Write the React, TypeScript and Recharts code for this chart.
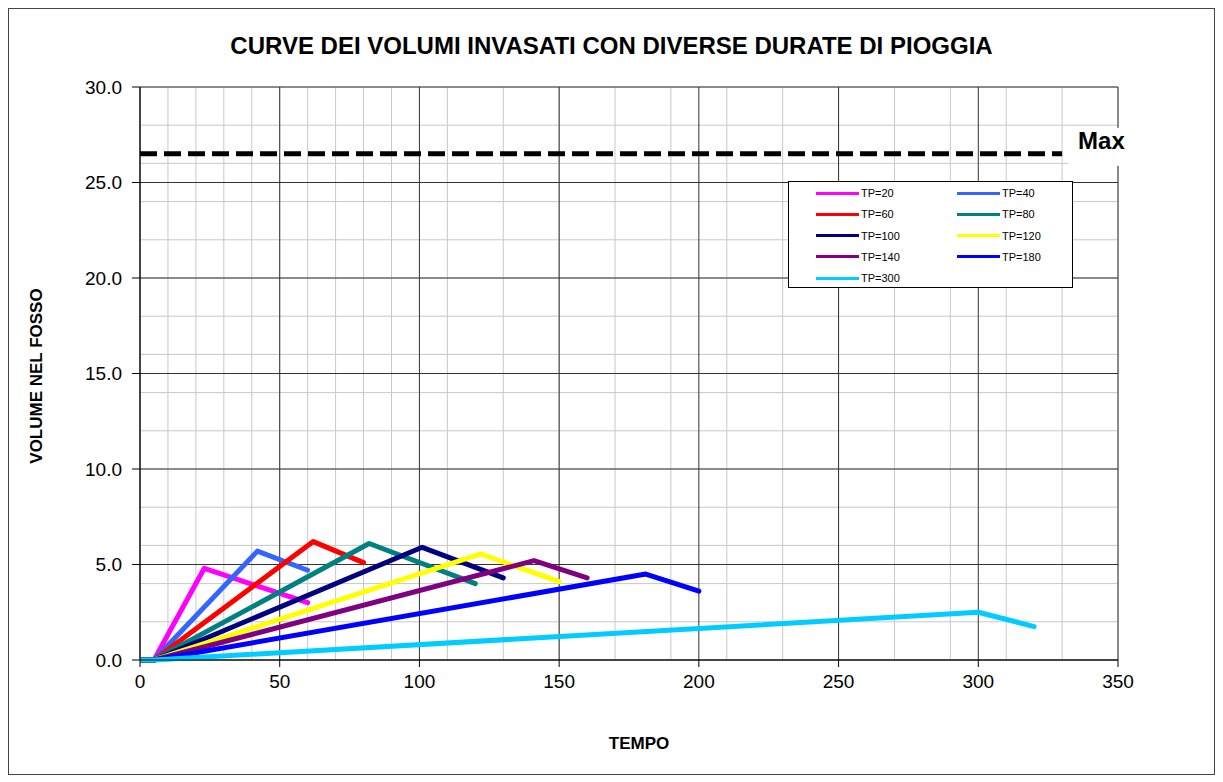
import React from "react";
import { LineChart, Line, XAxis, YAxis, CartesianGrid, ReferenceLine } from "recharts";

const tp20 = [{ t: 0, v: 0 }, { t: 5, v: 0 }, { t: 23, v: 4.8 }, { t: 60, v: 3.0 }];
const tp40 = [{ t: 0, v: 0 }, { t: 5, v: 0 }, { t: 42, v: 5.7 }, { t: 60, v: 4.7 }];
const tp60 = [{ t: 0, v: 0 }, { t: 5, v: 0 }, { t: 62, v: 6.2 }, { t: 80, v: 5.1 }];
const tp80 = [{ t: 0, v: 0 }, { t: 5, v: 0 }, { t: 82, v: 6.1 }, { t: 120, v: 4.0 }];
const tp100 = [{ t: 0, v: 0 }, { t: 5, v: 0 }, { t: 101, v: 5.9 }, { t: 130, v: 4.3 }];
const tp120 = [{ t: 0, v: 0 }, { t: 5, v: 0 }, { t: 122, v: 5.55 }, { t: 150, v: 4.1 }];
const tp140 = [{ t: 0, v: 0 }, { t: 5, v: 0 }, { t: 141, v: 5.2 }, { t: 160, v: 4.3 }];
const tp180 = [{ t: 0, v: 0 }, { t: 5, v: 0 }, { t: 181, v: 4.5 }, { t: 200, v: 3.6 }];
const tp300 = [{ t: 0, v: 0 }, { t: 5, v: 0 }, { t: 300, v: 2.5 }, { t: 320, v: 1.75 }];

const seriesNames = ["TP=20", "TP=40", "TP=60", "TP=80", "TP=100", "TP=120", "TP=140", "TP=180", "TP=300"];
const seriesData = [tp20, tp40, tp60, tp80, tp100, tp120, tp140, tp180, tp300];
const seriesColors = ["#FF00FF", "#3366FF", "#FF0000", "#008080", "#000080", "#FFFF00", "#800080", "#0000FF", "#00CCFF"];

const maxValue = 26.5;
const maxEndT = 330;

const xTicks = [0, 50, 100, 150, 200, 250, 300, 350];
const yTicks = [0, 5, 10, 15, 20, 25, 30];
const xMinor = [0, 10, 20, 30, 40, 50, 60, 70, 80, 90, 100, 110, 120, 130, 140, 150, 160, 170, 180, 190, 200, 210, 220, 230, 240, 250, 260, 270, 280, 290, 300, 310, 320, 330, 340, 350];
const yMinor = [0, 1, 2, 3, 4, 5, 6, 7, 8, 9, 10, 11, 12, 13, 14, 15, 16, 17, 18, 19, 20, 21, 22, 23, 24, 25, 26, 27, 28, 29, 30];

const FONT = "'Liberation Sans', Arial, sans-serif";

const LegendBox = () => (
  <div
    style={{
      position: "absolute",
      left: 779,
      top: 172,
      width: 285,
      height: 107,
      boxSizing: "border-box",
      border: "1px solid #000",
      background: "#fff",
      fontFamily: FONT,
      fontSize: 11,
    }}
  >
    {seriesNames.map((n, i) => {
      const col = i % 2;
      const row = Math.floor(i / 2);
      return (
        <div
          key={n}
          style={{
            position: "absolute",
            left: col === 0 ? 27 : 168,
            top: 4 + row * 21.3,
            display: "flex",
            alignItems: "center",
            height: 14,
          }}
        >
          <div style={{ width: 43, height: 3, background: seriesColors[i] }} />
          <span style={{ marginLeft: 2, color: "#000" }}>{n}</span>
        </div>
      );
    })}
  </div>
);

const MaxLabel = (props: any) => {
  const vb = props.viewBox || {};
  const y = vb.y ?? 0;
  const x = vb.x + vb.width;
  return (
    <g>
      <rect x={x + 6} y={y - 26} width={66} height={38} fill="#fff" />
      <text x={x + 16} y={y - 5} fontFamily={FONT} fontSize={24} fontWeight="bold" fill="#000">
        Max
      </text>
    </g>
  );
};

export default function App() {
  return (
    <div
      style={{
        position: "relative",
        width: 1207,
        height: 767,
        border: "1px solid #444",
        boxSizing: "border-box",
        background: "#fff",
      }}
    >
      <LineChart
        width={1205}
        height={765}
        margin={{ top: 78, right: 96, bottom: 84, left: 71 }}
        style={{ position: "absolute", left: 0, top: 0 }}
      >
        <CartesianGrid horizontalValues={yMinor} verticalValues={xMinor} stroke="#c8c8c8" strokeWidth={1} />
        <CartesianGrid horizontalValues={yTicks} verticalValues={xTicks} stroke="#333" strokeWidth={1} />
        <XAxis
          type="number"
          dataKey="t"
          domain={[0, 350]}
          ticks={xTicks}
          allowDataOverflow
          height={30}
          stroke="#000"
          tickSize={7}
          tickMargin={8}
          tick={{ fill: "#000", fontSize: 19, fontFamily: FONT }}
        />
        <YAxis
          type="number"
          domain={[0, 30]}
          ticks={yTicks}
          width={60}
          stroke="#000"
          tickSize={8}
          tickMargin={10}
          tickFormatter={(v: number) => v.toFixed(1)}
          tick={{ fill: "#000", fontSize: 19, fontFamily: FONT }}
        />
        <ReferenceLine
          segment={[{ x: 0, y: maxValue }, { x: maxEndT, y: maxValue }]}
          stroke="#000"
          strokeWidth={5}
          strokeDasharray="17 7"
          label={<MaxLabel />}
          ifOverflow="visible"
        />
        {seriesData.map((d, i) => (
          <Line
            key={seriesNames[i]}
            data={d}
            dataKey="v"
            name={seriesNames[i]}
            type="linear"
            stroke={seriesColors[i]}
            strokeWidth={5}
            strokeLinejoin="round"
            strokeLinecap="round"
            dot={false}
            activeDot={false}
            isAnimationActive={false}
          />
        ))}
      </LineChart>
      <div
        style={{
          position: "absolute",
          left: 0,
          width: 1205,
          top: 23,
          textAlign: "center",
          fontFamily: FONT,
          fontWeight: "bold",
          fontSize: 24,
          color: "#000",
          lineHeight: "28px",
        }}
      >
        CURVE DEI VOLUMI INVASATI CON DIVERSE DURATE DI PIOGGIA
      </div>
      <div
        style={{
          position: "absolute",
          left: 530,
          width: 200,
          top: 725,
          textAlign: "center",
          fontFamily: FONT,
          fontWeight: "bold",
          fontSize: 17,
          color: "#000",
          lineHeight: "20px",
        }}
      >
        TEMPO
      </div>
      <div
        style={{
          position: "absolute",
          left: 28 - 150,
          top: 367 - 10,
          width: 300,
          textAlign: "center",
          transform: "rotate(-90deg)",
          fontFamily: FONT,
          fontWeight: "bold",
          fontSize: 17,
          color: "#000",
          lineHeight: "20px",
        }}
      >
        VOLUME NEL FOSSO
      </div>
      <LegendBox />
    </div>
  );
}
